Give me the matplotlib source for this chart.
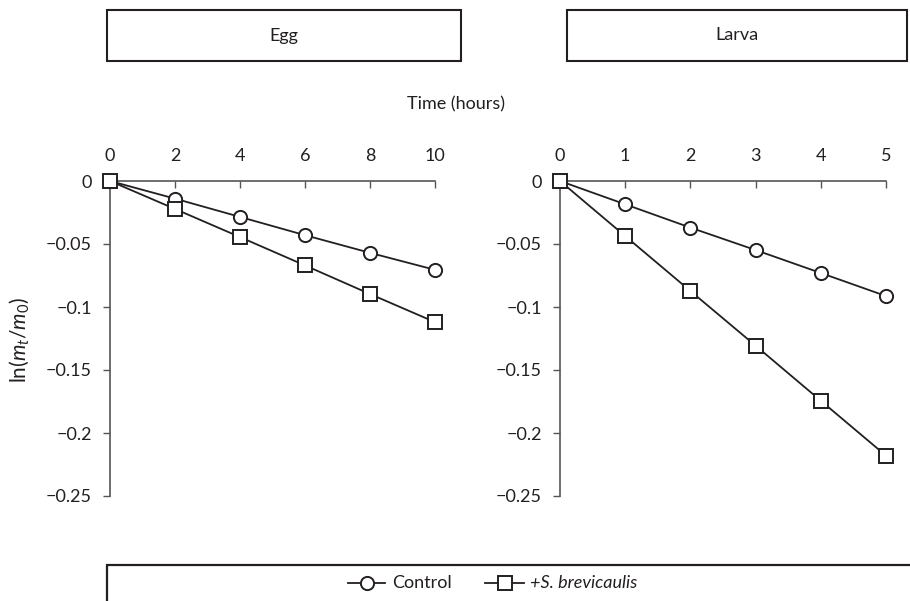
import matplotlib
matplotlib.use("Agg")
import matplotlib.pyplot as plt
from matplotlib.patches import Rectangle
from matplotlib.lines import Line2D

plt.rcParams['font.family'] = ['Lato', 'DejaVu Sans']
plt.rcParams['mathtext.fontset'] = 'custom'
plt.rcParams['mathtext.rm'] = 'Lato'
plt.rcParams['mathtext.it'] = 'Lato:italic'

# Data
egg_time = [0, 2, 4, 6, 8, 10]
egg_control = [0, -0.014, -0.0285, -0.043, -0.057, -0.0705]
egg_sb = [0, -0.0222, -0.0445, -0.067, -0.0897, -0.112]

larva_time = [0, 1, 2, 3, 4, 5]
larva_control = [0, -0.0185, -0.037, -0.0548, -0.073, -0.0913]
larva_sb = [0, -0.0437, -0.0873, -0.1307, -0.1744, -0.218]

yticks = [0, -0.05, -0.1, -0.15, -0.2, -0.25]
ytick_labels = ['0', '\u22120.05', '\u22120.1', '\u22120.15', '\u22120.2', '\u22120.25']
panel_titles = ['Egg', 'Larva']
series_names = ['Control', '+S. brevicaulis']

W, H = 910, 601
fig = plt.figure(figsize=(W/100, H/100), dpi=100)

def fx(px):
    return px / W

def fy(py):
    return 1 - py / H

lc = '#231f20'
fs = 13

axes_px = [(110, 435), (560, 886)]
y_top, y_bot = 181, 496
datasets = [(egg_time, egg_control, egg_sb, [0, 2, 4, 6, 8, 10]),
            (larva_time, larva_control, larva_sb, [0, 1, 2, 3, 4, 5])]

for (x0, x1), (t, c, s, xt) in zip(axes_px, datasets):
    ax = fig.add_axes([fx(x0), fy(y_bot), fx(x1 - x0), (y_bot - y_top) / H])
    ax.set_xlim(xt[0], xt[-1])
    ax.set_ylim(-0.25, 0)
    ax.plot(t, c, color=lc, lw=1.3, marker='o', ms=9.5, mfc='white', mec=lc, mew=1.4, clip_on=False, zorder=3)
    ax.plot(t, s, color=lc, lw=1.3, marker='s', ms=9.5, mfc='white', mec=lc, mew=1.4, clip_on=False, zorder=4)
    ax.xaxis.tick_top()
    ax.set_xticks(xt)
    ax.set_xticklabels([str(v) for v in xt], fontsize=fs, color=lc)
    ax.set_yticks(yticks)
    ax.set_yticklabels(ytick_labels, fontsize=fs, color=lc)
    ax.tick_params(axis='x', direction='in', length=5, width=1, color='#555555', pad=12)
    ax.tick_params(axis='y', direction='out', length=5, width=1, color='#555555', pad=8)
    for sp in ['bottom', 'right']:
        ax.spines[sp].set_visible(False)
    for sp in ['top', 'left']:
        ax.spines[sp].set_color('#555555')
        ax.spines[sp].set_linewidth(1.2)
    ax.patch.set_visible(False)

# Panel title boxes
boxes = [(107, 461), (567, 907)]
for (bx0, bx1), title in zip(boxes, panel_titles):
    fig.patches.append(Rectangle((fx(bx0), fy(61)), fx(bx1 - bx0), (61 - 10) / H,
                                 transform=fig.transFigure, fill=False, ec=lc, lw=1.5))
    fig.text(fx((bx0 + bx1) / 2), fy(35.5), title, ha='center', va='center', fontsize=fs, color=lc)

fig.text(fx(456), fy(104), 'Time (hours)', ha='center', va='center', fontsize=fs, color=lc)
fig.text(fx(19), fy(340), r'ln($\mathit{m}_{\mathit{t}}$/$\mathit{m}_{0}$)', rotation=90,
         ha='center', va='center', fontsize=15, color=lc)

# Legend box (cut off at bottom/right)
fig.patches.append(Rectangle((fx(107), fy(640)), fx(900), (640 - 565) / H,
                             transform=fig.transFigure, fill=False, ec=lc, lw=1.6, clip_on=False))

ly = fy(583)
fig.lines.append(Line2D([fx(348), fx(385)], [ly, ly], transform=fig.transFigure, color=lc, lw=1.3))
fig.lines.append(Line2D([fx(366.5)], [ly], transform=fig.transFigure, marker='o', ms=9.5,
                        mfc='white', mec=lc, mew=1.4, color=lc))
fig.text(fx(392), ly, series_names[0], ha='left', va='center', fontsize=fs, color=lc)
fig.lines.append(Line2D([fx(485), fx(524)], [ly, ly], transform=fig.transFigure, color=lc, lw=1.3))
fig.lines.append(Line2D([fx(504.5)], [ly], transform=fig.transFigure, marker='s', ms=9.5,
                        mfc='white', mec=lc, mew=1.4, color=lc))
fig.text(fx(530), ly, series_names[1], ha='left', va='center', fontsize=fs, color=lc, style='italic')

fig.savefig('out.png', dpi=100)
